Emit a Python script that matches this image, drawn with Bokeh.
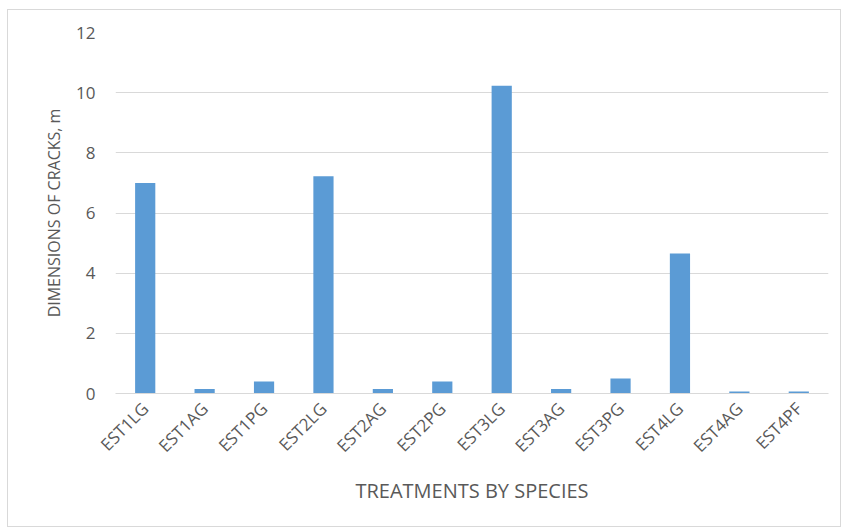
from bokeh.plotting import figure
from bokeh.models import FactorRange, Range1d, FixedTicker
from bokeh.embed import file_html
from bokeh.resources import INLINE
import math

# Crack dimensions (m) per treatment
treatments = ["EST1LG", "EST1AG", "EST1PG", "EST2LG", "EST2AG", "EST2PG",
              "EST3LG", "EST3AG", "EST3PG", "EST4LG", "EST4AG", "EST4PF"]
crack_dims = [7.0, 0.15, 0.4, 7.22, 0.15, 0.4, 10.23, 0.15, 0.5, 4.65, 0.07, 0.07]
y_ticks = [0, 2, 4, 6, 8, 10, 12]

FONT = "Open Sans"
TEXT = "#595959"
GRID = "#d9d9d9"

p = figure(
    x_range=FactorRange(factors=treatments, range_padding=0),
    y_range=Range1d(0, 12),
    width=834, height=518,
    margin=(9, 0, 0, 7),
    output_backend="svg", toolbar_location=None,
    min_border_left=107, min_border_right=14,
    min_border_top=22, min_border_bottom=135,
    styles={"border": "1px solid #d9d9d9", "box-sizing": "border-box"},
)

p.vbar(x=treatments, top=crack_dims, width=0.34, color="#5b9bd5", line_color=None)

p.outline_line_color = None
p.xgrid.grid_line_color = None
p.ygrid.grid_line_color = GRID
p.ygrid.ticker = FixedTicker(ticks=y_ticks)

p.yaxis.ticker = FixedTicker(ticks=y_ticks)
p.yaxis.axis_line_color = None
p.yaxis.major_tick_line_color = None
p.yaxis.minor_tick_line_color = None
p.yaxis.major_label_standoff = 14
p.yaxis.major_label_text_font_size = "17px"
p.yaxis.axis_label = "DIMENSIONS OF CRACKS, m"
p.yaxis.axis_label_standoff = 8
p.yaxis.axis_label_text_font_size = "16px"

p.xaxis.axis_line_color = GRID
p.xaxis.major_tick_line_color = None
p.xaxis.minor_tick_line_color = None
p.xaxis.major_label_orientation = math.pi / 4
p.xaxis.major_label_standoff = 6
p.xaxis.major_label_text_font_size = "17px"
p.xaxis.axis_label = "TREATMENTS BY SPECIES"
p.xaxis.axis_label_standoff = 9
p.xaxis.axis_label_text_font_size = "20px"

for ax in (p.xaxis, p.yaxis):
    ax.major_label_text_font = FONT
    ax.major_label_text_color = TEXT
    ax.axis_label_text_font = FONT
    ax.axis_label_text_font_style = "normal"
    ax.axis_label_text_color = TEXT

open("out.html", "w").write(file_html(p, INLINE))
